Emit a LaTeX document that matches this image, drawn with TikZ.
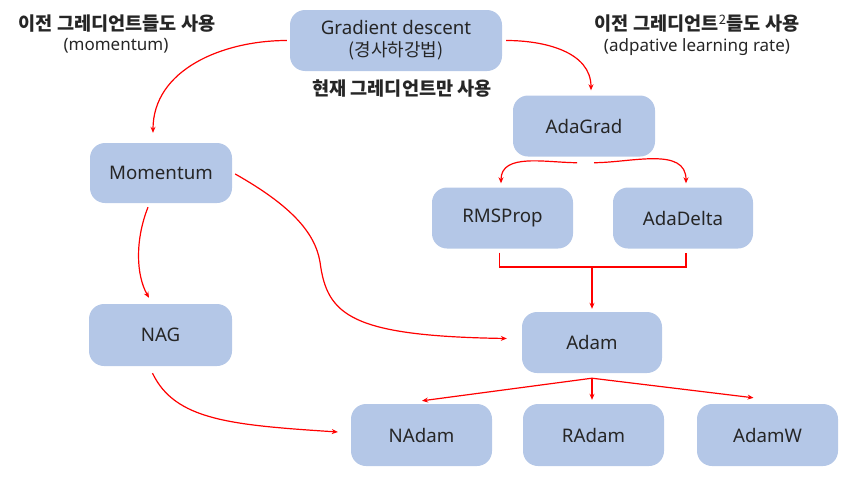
\documentclass[tikz,border=0pt]{standalone}
\usepackage{fontspec}
\setmainfont{Noto Sans}
\newfontfamily\kr{Noto Sans CJK KR}
\usetikzlibrary{arrows.meta,calc}
\definecolor{boxblue}{HTML}{B4C7E7}
\definecolor{txt}{HTML}{262626}
\begin{document}
\begin{tikzpicture}[x=1pt,y=-1pt,
  box/.style={fill=boxblue,rounded corners=15pt,inner sep=0pt,text=txt,font=\fontsize{18.7}{22}\selectfont,align=center},
  lbl/.style={text=txt,inner sep=0pt,align=center},
  big/.style={font=\kr\bfseries\fontsize{18.6}{22}\selectfont},
  small/.style={font=\fontsize{17}{20}\selectfont},
  arr/.style={draw=red,line width=1.2pt,-{Stealth[length=6pt,width=5pt]}},
  lne/.style={draw=red,line width=1.2pt}]
\useasboundingbox (0,0) rectangle (857,482);
% nodes
\node[box,minimum width=212pt,minimum height=61pt] (gd) at (396,40.5) {Gradient descent\\{\kr\fontsize{18}{22}\selectfont (경사하강법)}};
\node[box,minimum width=142pt,minimum height=60pt] (mom) at (161,173) {Momentum};
\node[box,minimum width=143pt,minimum height=62pt] (nag) at (160.5,335) {NAG};
\node[box,minimum width=142pt,minimum height=61pt] (adagrad) at (584,126) {AdaGrad};
\node[box,minimum width=141pt,minimum height=61pt] (rms) at (502.5,218) {RMSProp};
\node[box,minimum width=140pt,minimum height=61pt] (adadelta) at (683,218) {AdaDelta};
\node[box,minimum width=140pt,minimum height=61pt] (adam) at (592,342.5) {Adam};
\node[box,minimum width=141pt,minimum height=62pt] (nadam) at (421.5,435) {NAdam};
\node[box,minimum width=141pt,minimum height=62pt] (radam) at (593.5,435) {RAdam};
\node[box,minimum width=141pt,minimum height=62pt] (adamw) at (767.5,435) {AdamW};
% labels
\node[lbl,big] (l1) at (117,24) {이전 그레디언트들도 사용};
\node[lbl,small] (l1b) at (116,46) {(momentum)};
\node[lbl,big] (l2) at (402,89) {현재 그레디언트만 사용};
\node[lbl,big] (l3) at (697,24) {이전 그레디언트{\mdseries\textsuperscript{2}}들도 사용};
\node[lbl,small] (l3b) at (697,47) {(adpative learning rate)};
% connectors
\draw[arr] ([xshift=-3pt]gd.west) to[out=180,in=90] ([xshift=-8pt,yshift=10pt]mom.north);
\draw[arr] ([xshift=4pt]gd.east) to[out=0,in=90] ([xshift=7pt,yshift=5pt]adagrad.north);
\draw[arr] ([xshift=-7pt,yshift=-6pt]adagrad.south) to[out=180,in=90] ([xshift=-1.5pt,yshift=4pt]rms.north);
\draw[arr] ([xshift=10pt,yshift=-6pt]adagrad.south) to[out=0,in=90] ([xshift=3pt,yshift=4pt]adadelta.north);
\coordinate (join) at (592,267);
\draw[lne] ([xshift=-3pt,yshift=-4pt]rms.south) |- (join) -| ([xshift=3pt,yshift=-4pt]adadelta.south);
\draw[arr] (join) -- ([yshift=3pt]adam.north);
\draw[arr] ([xshift=3pt,yshift=-1pt]mom.east) .. controls (290,205) and (315,232) .. (320,262)
   .. controls (327,315) and (350,336) .. ([xshift=-15pt,yshift=4pt]adam.west);
\draw[arr] ([xshift=-13pt,yshift=-4pt]mom.south) .. controls (135,240) and (136,275) .. ([xshift=-11.5pt,yshift=6pt]nag.north);
\draw[arr] ([xshift=-8pt,yshift=-7pt]nag.south) .. controls (175,420) and (230,425) .. ([xshift=-13pt,yshift=3pt]nadam.west);
\coordinate (br) at ([yshift=-5pt]adam.south);
\draw[arr] (br) -- ([xshift=0.5pt,yshift=3pt]nadam.north);
\draw[arr] (br) -- ([xshift=-1.5pt,yshift=4pt]radam.north);
\draw[arr] (br) -- ([xshift=-14pt,yshift=6pt]adamw.north);
\end{tikzpicture}
\end{document}
